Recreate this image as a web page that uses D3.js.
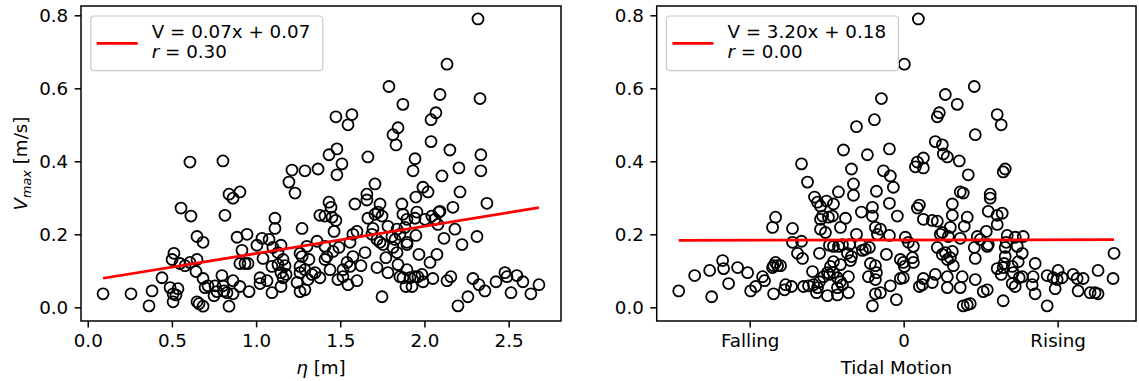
<!DOCTYPE html>
<html>
<head>
<meta charset="utf-8">
<script src="https://cdn.jsdelivr.net/npm/d3@7"></script>
<style>
body { margin: 0; background: #fff; }
text { font-family: "DejaVu Sans", sans-serif; fill: #000; }
</style>
</head>
<body>
<svg id="chart" width="1139" height="381"></svg>
<script>

// tide height (m) vs max velocity (m/s)
var etaM = [2.318,2.134,1.789,2.092,2.330,1.872,1.474,1.569,1.546,2.068,2.039,1.843,1.813,1.831,2.039,2.151,2.335,1.480,1.433,1.664,
  1.944,0.607,0.803,1.510,1.368,1.290,2.205,1.932,2.335,1.213,1.480,2.104,1.706,1.991,2.021,2.211,1.658,1.658,1.949,2.371,
  1.195,1.231,0.839,0.904,0.863,0.554,0.613,0.815,1.112,1.112,1.273,1.433,1.445,1.587,1.736,1.866,2.169,2.092,1.379,1.409,
  1.451,1.474,1.724,1.706,1.748,1.872,1.896,1.955,1.944,2.003,2.044,2.086,2.062,1.664,1.463,1.599,1.575,1.694,1.688,1.718,
  1.736,1.783,1.837,1.854,1.807,1.825,1.884,1.896,1.949,2.080,2.181,2.116,2.223,2.312,1.362,1.302,1.273,1.409,1.421,1.457,
  1.492,1.558,1.575,1.647,1.754,1.771,1.813,1.837,1.896,1.967,2.074,2.033,1.314,1.290,1.261,1.409,1.439,1.350,1.332,1.379,
  1.540,1.558,1.516,1.516,1.486,1.546,1.623,1.599,1.718,1.783,1.843,1.854,1.872,1.896,1.914,1.944,1.961,1.985,1.991,1.890,
  1.926,2.050,2.134,2.157,1.748,2.199,2.258,2.288,2.324,2.359,2.425,2.478,2.490,2.514,2.549,2.585,2.632,2.680,1.261,1.290,
  1.100,1.148,1.130,1.160,1.130,1.172,1.148,1.178,1.160,1.261,1.261,1.308,0.697,0.714,0.756,0.768,0.750,0.803,0.809,0.827,
  0.863,0.904,0.958,0.797,0.863,0.685,0.643,0.649,0.661,0.685,0.839,0.507,0.364,0.489,0.536,0.507,0.524,0.382,0.441,0.257,
  0.091,0.512,0.501,0.548,0.578,0.607,0.649,0.887,0.946,0.916,0.904,0.934,0.952,1.005,1.035,1.077,1.041,1.094,1.023,1.023,
  1.065,1.094,1.148,1.243,0.649,0.685];
var etaV = [0.790,0.666,0.605,0.583,0.572,0.556,0.522,0.528,0.500,0.533,0.514,0.492,0.473,0.445,0.454,0.431,0.418,0.434,0.418,0.412,
  0.407,0.398,0.401,0.393,0.379,0.374,0.382,0.374,0.374,0.376,0.363,0.360,0.338,0.329,0.316,0.316,0.310,0.294,0.302,0.285,
  0.343,0.313,0.310,0.316,0.299,0.272,0.250,0.252,0.244,0.216,0.216,0.288,0.274,0.283,0.283,0.283,0.274,0.263,0.252,0.250,
  0.247,0.238,0.261,0.255,0.250,0.255,0.241,0.261,0.244,0.241,0.250,0.261,0.241,0.244,0.208,0.208,0.200,0.216,0.200,0.186,
  0.178,0.222,0.214,0.200,0.194,0.186,0.219,0.178,0.197,0.227,0.214,0.189,0.172,0.194,0.181,0.167,0.139,0.167,0.139,0.153,
  0.164,0.178,0.139,0.150,0.172,0.136,0.164,0.150,0.172,0.145,0.145,0.123,0.131,0.103,0.095,0.131,0.103,0.095,0.090,0.081,
  0.123,0.112,0.103,0.084,0.076,0.062,0.114,0.073,0.109,0.095,0.117,0.084,0.081,0.103,0.081,0.084,0.084,0.090,0.070,0.057,
  0.057,0.079,0.073,0.084,0.029,0.004,0.029,0.079,0.062,0.045,0.070,0.095,0.084,0.040,0.087,0.070,0.037,0.062,0.043,0.048,
  0.164,0.170,0.150,0.131,0.117,0.114,0.095,0.090,0.081,0.148,0.112,0.076,0.054,0.059,0.059,0.043,0.032,0.059,0.045,0.040,
  0.037,0.057,0.043,0.087,0.073,0.079,0.098,0.015,0.010,0.003,0.003,0.015,0.004,0.054,0.051,0.037,0.034,0.045,0.081,0.037,
  0.037,0.148,0.131,0.120,0.114,0.123,0.131,0.192,0.200,0.156,0.120,0.120,0.120,0.170,0.189,0.186,0.134,0.112,0.081,0.065,
  0.073,0.040,0.057,0.068,0.194,0.178];

// tidal rate (1e-4 m/s, negative = falling) vs max velocity
var tideRate = [-0.289,-0.380,-0.613,-0.782,-0.471,-0.185,-1.327,-0.678,-0.263,0.191,0.009,0.917,0.541,0.696,0.463,0.437,1.215,1.267,0.930,0.411,
  0.502,0.515,0.567,0.722,0.178,0.256,0.152,1.319,1.293,-1.249,-0.652,-0.652,-0.173,-0.354,-0.134,-0.185,-0.082,-0.847,-1.158,-1.119,
  -1.080,-1.003,-0.912,-1.054,-1.080,-0.977,-0.925,-0.756,-0.821,-0.549,-0.406,-0.406,-1.080,-1.016,-0.613,-0.367,-0.302,-0.341,-0.185,-1.664,
  -1.703,-1.444,-1.444,-1.327,-1.379,-1.314,-1.093,-0.964,-0.912,-0.847,-0.795,-0.704,-0.730,-0.678,-0.691,-0.562,-0.536,-0.497,-0.445,-0.224,
  -0.043,-0.821,-0.912,-0.951,-0.432,-0.367,-0.354,-1.184,-0.990,-0.964,-0.912,-1.041,-1.093,-0.860,-0.821,-0.795,-0.717,-0.458,-0.367,-0.173,
  -0.043,-1.690,-1.638,-1.599,-1.664,-1.703,-2.157,-2.027,-1.833,-1.807,-2.352,-2.339,-2.520,-2.274,-2.715,-2.922,-2.494,-1.988,-1.923,-1.690,
  -1.534,-1.547,-1.457,-1.301,-1.236,-1.171,-1.119,-1.132,-0.990,-0.860,-0.860,-0.717,-0.406,-0.367,-0.302,-0.095,0.256,0.839,0.735,0.774,
  1.124,1.124,0.204,0.178,0.632,1.099,1.215,1.280,0.256,0.372,0.437,0.632,0.826,0.787,1.215,0.606,0.502,0.476,0.580,0.735,
  0.956,0.995,1.073,1.086,1.345,1.332,1.449,1.553,1.475,1.319,0.022,0.061,0.126,0.437,0.502,0.541,0.606,0.567,0.632,0.645,
  0.917,0.930,1.099,1.319,1.306,1.293,1.540,1.488,0.113,0.126,-0.004,0.009,1.708,1.215,1.267,1.410,1.423,1.501,1.540,1.682,
  1.864,2.006,1.942,1.994,2.058,1.968,2.201,2.253,2.331,2.525,2.733,2.720,2.266,2.422,2.486,2.525,1.708,1.864,1.293,1.410,
  1.449,1.669,1.086,1.034,0.930,0.761,0.735,0.567,0.411,0.567,0.256,0.243,0.204,0.372,0.774,0.826,0.865,-0.004];
var tideV = [0.572,0.514,0.495,0.431,0.418,0.434,0.393,0.379,0.374,0.790,0.666,0.605,0.583,0.556,0.533,0.522,0.528,0.500,0.473,0.454,
  0.445,0.420,0.412,0.401,0.398,0.409,0.385,0.379,0.371,0.343,0.338,0.307,0.360,0.318,0.329,0.285,0.250,0.316,0.302,0.288,
  0.277,0.291,0.283,0.250,0.241,0.247,0.250,0.244,0.219,0.261,0.274,0.250,0.214,0.205,0.200,0.219,0.214,0.200,0.197,0.247,
  0.219,0.216,0.178,0.181,0.148,0.134,0.148,0.170,0.167,0.167,0.172,0.172,0.148,0.139,0.128,0.172,0.156,0.159,0.164,0.145,
  0.131,0.117,0.125,0.112,0.120,0.114,0.095,0.098,0.095,0.090,0.095,0.084,0.070,0.081,0.070,0.062,0.084,0.084,0.076,0.059,
  0.079,0.114,0.114,0.114,0.123,0.109,0.109,0.095,0.084,0.073,0.128,0.106,0.101,0.065,0.087,0.045,0.029,0.045,0.057,0.037,
  0.062,0.048,0.057,0.057,0.059,0.062,0.054,0.040,0.032,0.034,0.054,0.040,0.004,0.037,0.040,0.021,0.382,0.363,0.316,0.313,
  0.310,0.299,0.280,0.272,0.283,0.263,0.252,0.258,0.241,0.238,0.236,0.252,0.247,0.222,0.227,0.219,0.205,0.200,0.194,0.189,
  0.194,0.186,0.208,0.167,0.197,0.178,0.192,0.194,0.167,0.164,0.192,0.178,0.167,0.164,0.145,0.150,0.136,0.131,0.153,0.114,
  0.164,0.134,0.172,0.139,0.120,0.109,0.148,0.125,0.136,0.123,0.123,0.112,0.120,0.106,0.090,0.112,0.095,0.081,0.084,0.084,
  0.087,0.101,0.081,0.076,0.081,0.051,0.090,0.079,0.079,0.101,0.148,0.079,0.045,0.040,0.040,0.037,0.037,0.004,0.018,0.065,
  0.057,0.062,0.048,0.043,0.076,0.084,0.054,0.054,0.090,0.084,0.079,0.062,0.057,0.068,0.004,0.007,0.010,0.081];

var vTicks = [0, 0.2, 0.4, 0.6, 0.8];
var etaTicks = [0, 0.5, 1.0, 1.5, 2.0, 2.5];
var tideTicks = [-2, 0, 2];
var tideTickLabels = ["Falling", "0", "Rising"];

// linear fits (slope, intercept) and what the legends say
var etaFit = [0.0747, 0.0728];
var tideFit = [3.20, 0.1845];
var etaFitText = ["V = 0.07x + 0.07", "0.30"];
var tideFitText = ["V = 3.20x + 0.18", "0.00"];

var FS = 18.3;
var svg = d3.select("#chart");

// NB: "top" is taken by window.top, so use other names
var plotTop = 6, plotBottom = 321;
var y = d3.scaleLinear().domain([-0.0375, 0.8255]).range([plotBottom, plotTop]);

function drawPanel(left, right, xDomain, xs, ys, fit, fitScale, fitText, ticks, tickFmt) {
  var g = svg.append("g");
  var x = d3.scaleLinear().domain(xDomain).range([left, right]);

  // axes
  var xa = d3.axisBottom(x).tickValues(ticks).tickFormat(tickFmt).tickSize(6.4).tickPadding(6.4);
  var ya = d3.axisLeft(y).tickValues(vTicks).tickFormat(d3.format(".1f")).tickSize(6.4).tickPadding(6.4);
  var gx = g.append("g").attr("transform", "translate(0," + plotBottom + ")").call(xa);
  var gy = g.append("g").attr("transform", "translate(" + left + ",0)").call(ya);
  [gx, gy].forEach(function(a) {
    a.select(".domain").remove();
    a.selectAll("line").attr("stroke", "#000").attr("stroke-width", 1.5);
    a.selectAll("text").attr("font-size", FS).attr("font-family", "DejaVu Sans").attr("fill", "#000");
  });

  // points
  g.append("g").selectAll("circle")
    .data(xs)
    .enter()
    .append("circle")
    .attr("cx", function(d) { return x(d); })
    .attr("cy", function(d, i) { return y(ys[i]); })
    .attr("r", 5.5)
    .attr("fill", "none")
    .attr("stroke", "#000")
    .attr("stroke-width", 1.8);

  // fit line across the data range
  var ext = d3.extent(xs);
  g.append("line")
    .attr("x1", x(ext[0])).attr("x2", x(ext[1]))
    .attr("y1", y(fit[0] * ext[0] * fitScale + fit[1]))
    .attr("y2", y(fit[0] * ext[1] * fitScale + fit[1]))
    .attr("stroke", "#ff0000").attr("stroke-width", 2.75);

  // frame
  g.append("rect").attr("x", left).attr("y", plotTop)
    .attr("width", right - left).attr("height", plotBottom - plotTop)
    .attr("fill", "none").attr("stroke", "#000").attr("stroke-width", 1.5);

  // legend
  var lg = g.append("g").attr("transform", "translate(" + (left + 9.7) + ",16)");
  lg.append("rect").attr("width", 232).attr("height", 54.7).attr("rx", 3.5)
    .attr("fill", "#fff").attr("fill-opacity", 0.8).attr("stroke", "#cccccc").attr("stroke-width", 1.2);
  lg.append("line").attr("x1", 6).attr("x2", 47).attr("y1", 27.3).attr("y2", 27.3)
    .attr("stroke", "#ff0000").attr("stroke-width", 2.75);
  lg.append("text").attr("x", 61).attr("y", 21.7).attr("font-size", FS).text(fitText[0]);
  var t2 = lg.append("text").attr("x", 61).attr("y", 42.3).attr("font-size", FS);
  t2.append("tspan").attr("font-style", "italic").text("r");
  t2.append("tspan").text(" = " + fitText[1]);

  return g;
}

var g1 = drawPanel(81, 561, [-0.040, 2.811], etaM, etaV, etaFit, 1, etaFitText, etaTicks, d3.format(".1f"));
var g2 = drawPanel(656.7, 1136, [-3.208, 3.018], tideRate, tideV, tideFit, 1e-4, tideFitText, tideTicks,
  function(d, i) { return tideTickLabels[i]; });

// axis labels
var yl = svg.append("text")
  .attr("transform", "translate(27," + ((plotTop + plotBottom) / 2) + ") rotate(-90)")
  .attr("text-anchor", "middle").attr("font-size", FS);
yl.append("tspan").attr("font-style", "italic").text("V");
yl.append("tspan").attr("font-style", "italic").attr("font-size", FS * 0.7).attr("dy", 3.5).text("max");
yl.append("tspan").attr("dy", -3.5).text(" [m/s]");

var xl = svg.append("text").attr("x", 321).attr("y", 374).attr("text-anchor", "middle").attr("font-size", FS);
xl.append("tspan").attr("font-style", "italic").text("η");
xl.append("tspan").text(" [m]");

svg.append("text").attr("x", (656.7 + 1136) / 2).attr("y", 374).attr("text-anchor", "middle")
  .attr("font-size", FS).text("Tidal Motion");

</script>
</body>
</html>
